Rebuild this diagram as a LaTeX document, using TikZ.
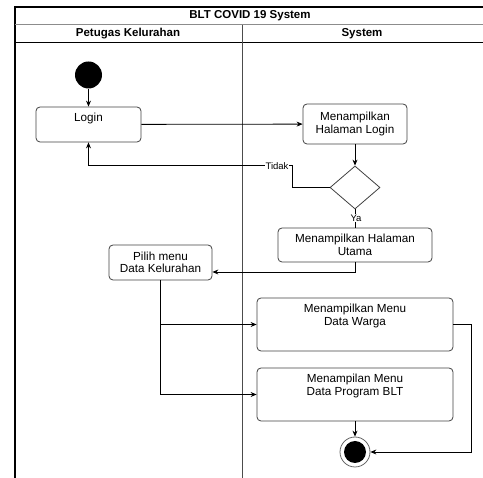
\documentclass[tikz,border=0pt]{standalone}
\usepackage{fontspec}
\setmainfont{Liberation Sans}
\usetikzlibrary{arrows.meta,shapes.geometric,calc}

\tikzset{
  act/.style={draw=black!75, line width=0.8pt, rounded corners=4pt, align=center, inner sep=0pt,
    font=\fontsize{11.7}{12.5}\selectfont},
  txt/.style={align=center, font=\fontsize{11.7}{12.5}\selectfont},
  flow/.style={line width=0.8pt, -{Stealth[length=6pt,width=5pt]}},
  cond/.style={fill=white, inner sep=0.6pt, font=\fontsize{9.5}{10}\selectfont},
}

\begin{document}
\begin{tikzpicture}[x=1pt,y=-1pt]
  \useasboundingbox (0,0) rectangle (483,478);

  %%%%% LANES %%%%%
  \draw[line width=1.3pt] (15,478) -- (15,7) -- (483,7);
  \draw[line width=1pt, black!45] (15,25) -- (483,25);
  \draw[line width=1pt] (15,43) -- (483,43);
  \draw[line width=0.8pt, black!70] (242,25) -- (242,478);

  \node[font=\bfseries\fontsize{11.5}{12}\selectfont] (judul) at (250,16) {BLT COVID 19 System};
  \node[font=\bfseries\fontsize{11.5}{12}\selectfont] (petugas) at (128,34) {Petugas Kelurahan};
  \node[font=\bfseries\fontsize{11.5}{12}\selectfont] (sistem) at (362,34) {System};

  %%%%% NODES %%%%%
  \node[circle, fill=black, minimum size=27pt, inner sep=0pt] (mulai) at (88.5,75) {};

  \node[act, minimum width=105pt, minimum height=35pt,
    label={[txt, yshift=6.5pt]center:Login}] (login) at (88.5,124.5) {};
  \node[act, minimum width=104pt, minimum height=40pt] (hlogin) at (355,124) {Menampilkan\\Halaman Login};

  \node[diamond, draw=black!75, line width=0.8pt, inner sep=0pt,
    minimum width=50pt, minimum height=43pt] (cek) at (355,187.5) {};

  \node[act, minimum width=154pt, minimum height=34pt] (utama) at (355,245) {Menampilkan Halaman\\Utama};
  \node[act, minimum width=103pt, minimum height=35pt] (pilih) at (160.5,262.5) {Pilih menu\\Data Kelurahan};

  \node[act, minimum width=196pt, minimum height=53pt,
    label={[txt, yshift=8.5pt]center:Menampilkan Menu\\Data Warga}] (warga) at (355,324.5) {};
  \node[act, minimum width=196pt, minimum height=53pt,
    label={[txt, yshift=8.5pt]center:Menampilan Menu\\Data Program BLT}] (program) at (355,394.5) {};

  \node[circle, draw=black!60, line width=0.8pt, minimum size=30pt, inner sep=0pt,
    path picture={\fill (path picture bounding box.center) circle (11pt);}] (akhir) at (355,452) {};

  %%%%% FLOWS %%%%%
  \draw[flow] (mulai) -- (login);
  \draw[flow] (login) -- (hlogin);
  \draw[flow] (hlogin) -- (cek);

  \coordinate (belok) at (292,165);
  \draw[flow] (cek.west) -| (belok) -| (login.south);
  \node[cond] (tidak) at (277,166) {Tidak};

  \draw[line width=0.8pt] (cek.south) -- (utama.north);
  \node[cond] (ya) at (356,218) {Ya};

  \draw[flow] (utama.south) |- ([yshift=-9.5pt]pilih.east);
  \draw[flow] (pilih.south) |- (warga.west);
  \draw[flow] (pilih.south) |- (program.west);
  \draw[flow] (program) -- (akhir);
  \draw[flow] (warga.east) -- ++(18,0) |- (akhir.east);
\end{tikzpicture}
\end{document}
